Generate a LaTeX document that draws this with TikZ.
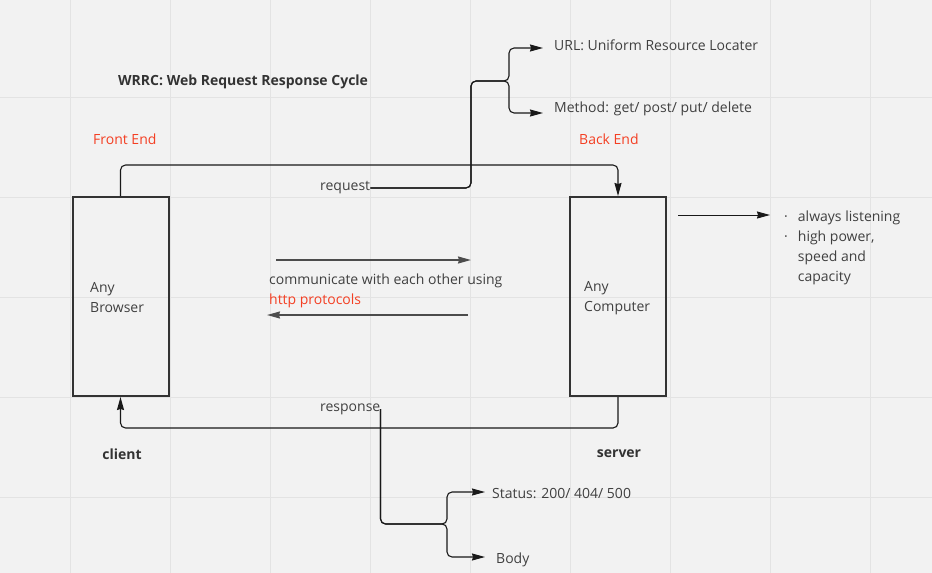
\documentclass[tikz,border=0pt]{standalone}
\usepackage{fontspec}
\setmainfont{Open Sans}
\usepackage{xcolor}
\usepackage{tikz}
\usetikzlibrary{arrows.meta}

\definecolor{paper}{HTML}{F2F2F2}
\definecolor{gridline}{HTML}{E3E3E3}
\definecolor{ink}{HTML}{404040}
\definecolor{hot}{HTML}{F43F23}

\begin{document}
\begin{tikzpicture}[x=1pt,y=-1pt]
\tikzset{txt/.style={text=ink, font=\fontsize{14}{20}\selectfont, inner sep=0pt, anchor=west, align=left},
  hd/.style={txt, anchor=center, font=\fontsize{14}{20}\selectfont\bfseries, text=black!80},
  endlbl/.style={txt, text=hot},
  box/.style={draw=black!80, line width=2pt, minimum width=96, minimum height=199},
  arr/.style={-{Stealth[length=13pt,width=7pt,inset=1pt]}, line width=1.1pt, draw=black!90, rounded corners=5pt},
  midarr/.style={arr, draw=black!70, line width=1.5pt}};
% canvas
\fill[paper] (0,0) rectangle (932,573);
\useasboundingbox (0,0) rectangle (932,573);
\foreach \gx in {70,170,...,870} \draw[gridline] (\gx,0) -- (\gx,573);
\foreach \gy in {97,197,...,497} \draw[gridline] (0,\gy) -- (932,\gy);
% headings
\node [hd, anchor=west] (title) at (118,82) {WRRC: Web Request Response Cycle};
\node [endlbl] (front) at (93,139) {Front End};
\node [endlbl] (back) at (579,139) {Back End};
\node [hd] (client) at (122,454) {client};
\node [hd] (server) at (619,454) {server};
% machines
\node [box] (browser) at (120.5,296.5) {};
\node [txt] (browsertxt) at (90,298) {Any\\Browser};
\node [box] (computer) at (618,296.5) {};
\node [txt] (computertxt) at (584,298) {Any\\Computer};
% labels
\node [txt] (request) at (320,188) {request};
\node [txt] (response) at (320,409) {response};
\node [txt] (url) at (554,45) {URL: Uniform Resource Locater};
\node [txt] (method) at (554,109) {Method: get/ post/ put/ delete};
\node [txt] (status) at (492,494) {Status: 200/ 404/ 500};
\node [txt] (body) at (496,560) {Body};
\node [txt] (comm) at (269,291) {communicate with each other using\\\textcolor{hot}{http protocols}};
\node [txt] (props) at (784,247) {\begin{tabular}{@{}l@{\hspace{10pt}}l@{}}
  · & always listening\\
  · & high power,\\
    & speed and\\
    & capacity
\end{tabular}};
% free ends
\coordinate (rqjoint) at (471,81);
\coordinate (rqfork) at (509,81);
\coordinate (urltip) at (543,48);
\coordinate (methtip) at (543,113);
\coordinate (rsfork) at (447,524);
\coordinate (sttip) at (485,492);
\coordinate (bdtip) at (485,557);
\coordinate (toa) at (276,260);
\coordinate (tob) at (471,260);
\coordinate (froma) at (468,315);
\coordinate (fromb) at (267,315);
\coordinate (propa) at (678,215);
\coordinate (propb) at (770,215);
% connectors
\draw [arr] (browser.north) -- ++(0,-31) -| (computer.north);
\draw [arr] (computer.south) -- ++(0,31) -| (browser.south);
\draw [arr] (request.east) -| (rqjoint) -- (rqfork) |- (urltip);
\draw [arr] (request.east) -| (rqjoint) -- (rqfork) |- (methtip);
\draw [arr] (response.east) |- (rsfork) |- (sttip);
\draw [arr] (response.east) |- (rsfork) |- (bdtip);
\draw [midarr] (toa) -- (tob);
\draw [midarr] (froma) -- (fromb);
\draw [arr, line width=1pt] (propa) -- (propb);
\end{tikzpicture}
\end{document}
